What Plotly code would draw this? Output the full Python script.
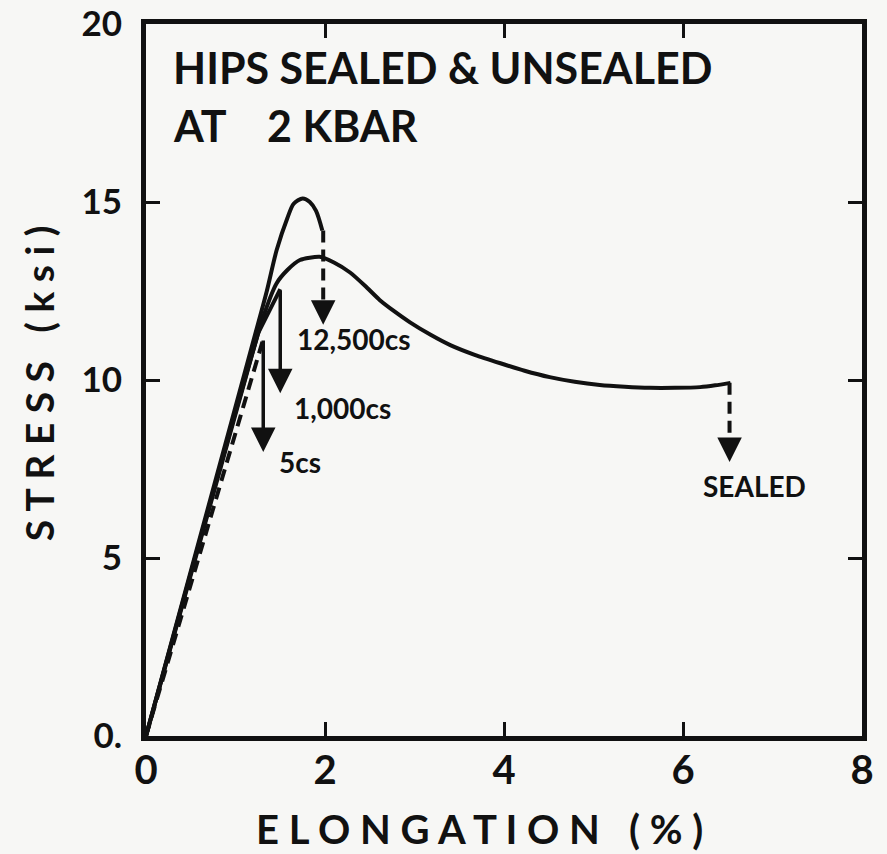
import plotly.graph_objects as go

# ---- data ----
x_12500 = [0, 0.8, 1.2, 1.35, 1.46, 1.58, 1.65, 1.75, 1.83, 1.90, 1.97]
y_12500 = [0, 7.4, 11.1, 12.5, 13.65, 14.55, 14.95, 15.1, 15.0, 14.75, 14.2]

x_sealed = [0, 1.31, 1.46, 1.58, 1.72, 1.94, 2.10, 2.28, 2.45, 2.61, 2.78, 2.95, 3.18, 3.40, 3.68, 3.96, 4.23, 4.51, 4.79, 5.07, 5.35, 5.63, 5.91, 6.19, 6.36, 6.53]
y_sealed = [0, 11.77, 12.72, 13.09, 13.37, 13.46, 13.30, 13.02, 12.64, 12.25, 11.92, 11.62, 11.27, 10.98, 10.70, 10.47, 10.26, 10.08, 9.95, 9.86, 9.81, 9.78, 9.78, 9.80, 9.85, 9.92]

x_1000 = [0, 1.25, 1.50]
y_1000 = [0, 11.3, 12.55]

x_5 = [0, 1.31]
y_5 = [0, 11.15]

# failure drops: (x, start stress, end stress)
drop_12500 = (1.98, 14.2, 11.55)
drop_1000 = (1.50, 12.55, 9.63)
drop_5 = (1.31, 11.15, 7.98)
drop_sealed = (6.52, 9.92, 7.70)

labels = ["12,500cs", "1,000cs", "5cs", "SEALED"]
label_pos = [(1.66, 11.15, "left"), (1.63, 9.21, "left"), (1.46, 7.7, "left"), (6.80, 7.02, "center")]

x_ticks = [0, 2, 4, 6, 8]
y_ticks = [0, 5, 10, 15, 20]
y_ticktext = ["0.", "5", "10", "15", "20"]

title_lines = ["HIPS SEALED & UNSEALED", "AT\u00a0\u00a0\u00a0\u00a02\u00a0KBAR"]

FONT = "Lato"
BLACK = "#111111"
BG = "#f7f7f5"

fig = go.Figure()

solid = dict(color=BLACK, width=4)
dashed = dict(color=BLACK, width=4, dash="12px,7px")

fig.add_trace(go.Scatter(x=x_sealed, y=y_sealed, mode="lines", line=dict(**solid, shape="spline", smoothing=0.6)))
fig.add_trace(go.Scatter(x=x_12500, y=y_12500, mode="lines", line=dict(**solid, shape="spline", smoothing=0.8)))
fig.add_trace(go.Scatter(x=x_1000, y=y_1000, mode="lines", line=solid))
fig.add_trace(go.Scatter(x=x_5, y=y_5, mode="lines", line=dashed))

# dashed drop lines
for d in (drop_12500, drop_sealed):
    fig.add_trace(go.Scatter(x=[d[0], d[0]], y=[d[1], d[2] + 0.4], mode="lines", line=dashed))

annotations = []
# arrows
for d in (drop_1000, drop_5):
    annotations.append(dict(x=d[0], y=d[2], ax=d[0], ay=d[1], xref="x", yref="y", axref="x", ayref="y",
                            text="", showarrow=True, arrowhead=2, arrowsize=1.4, arrowwidth=3.5, arrowcolor=BLACK))
for d in (drop_12500, drop_sealed):
    annotations.append(dict(x=d[0], y=d[2], ax=d[0], ay=d[2] + 0.6, xref="x", yref="y", axref="x", ayref="y",
                            text="", showarrow=True, arrowhead=2, arrowsize=1.4, arrowwidth=3.5, arrowcolor=BLACK))

for lab, (lx, ly, anc) in zip(labels, label_pos):
    annotations.append(dict(x=lx, y=ly, xref="x", yref="y", text=lab, showarrow=False,
                            xanchor=anc, yanchor="middle",
                            font=dict(family=FONT, size=28, color=BLACK, weight=700)))

annotations.append(dict(x=0.28, y=18.78, xref="x", yref="y", text=title_lines[0], showarrow=False,
                        xanchor="left", yanchor="middle", font=dict(family=FONT, size=43, color=BLACK, weight=700)))
annotations.append(dict(x=0.28, y=17.16, xref="x", yref="y", text=title_lines[1], showarrow=False,
                        xanchor="left", yanchor="middle", font=dict(family=FONT, size=43, color=BLACK, weight=700)))

# axis titles
annotations.append(dict(x=0.466, y=-0.130, xref="paper", yref="paper",
                        text="E L O N G A T I O N\u00a0\u00a0\u00a0( % )", showarrow=False,
                        xanchor="center", yanchor="middle", font=dict(family=FONT, size=40, color=BLACK, weight=700)))
annotations.append(dict(x=-0.149, y=0.496, xref="paper", yref="paper", textangle=-90,
                        text="S T R E S S\u00a0\u00a0\u00a0( k s i )", showarrow=False,
                        xanchor="center", yanchor="middle", font=dict(family=FONT, size=39, color=BLACK, weight=700)))

axis_common = dict(showline=True, linecolor=BLACK, linewidth=5, mirror="allticks",
                   ticks="inside", ticklen=14, tickwidth=3, tickcolor=BLACK,
                   showgrid=False, zeroline=False, automargin=False, ticklabeloverflow="allow")

fig.update_layout(
    width=887, height=854,
    margin=dict(l=146, r=25, t=24, b=118),
    paper_bgcolor=BG, plot_bgcolor=BG,
    showlegend=False,
    annotations=annotations,
    xaxis=dict(range=[0, 8], tickvals=x_ticks, ticktext=[str(v) for v in x_ticks],
               tickfont=dict(family=FONT, size=40, color=BLACK, weight=700), ticklabelstandoff=-5, **axis_common),
    yaxis=dict(range=[0, 20], tickvals=y_ticks, ticktext=y_ticktext,
               tickfont=dict(family=FONT, size=35, color=BLACK, weight=700), ticklabelstandoff=12, **axis_common),
)

fig.write_html("out.html", config={"displayModeBar": False},
               post_script="document.body.style.margin='0';document.body.style.overflow='hidden';document.body.style.background='%s';" % BG)
